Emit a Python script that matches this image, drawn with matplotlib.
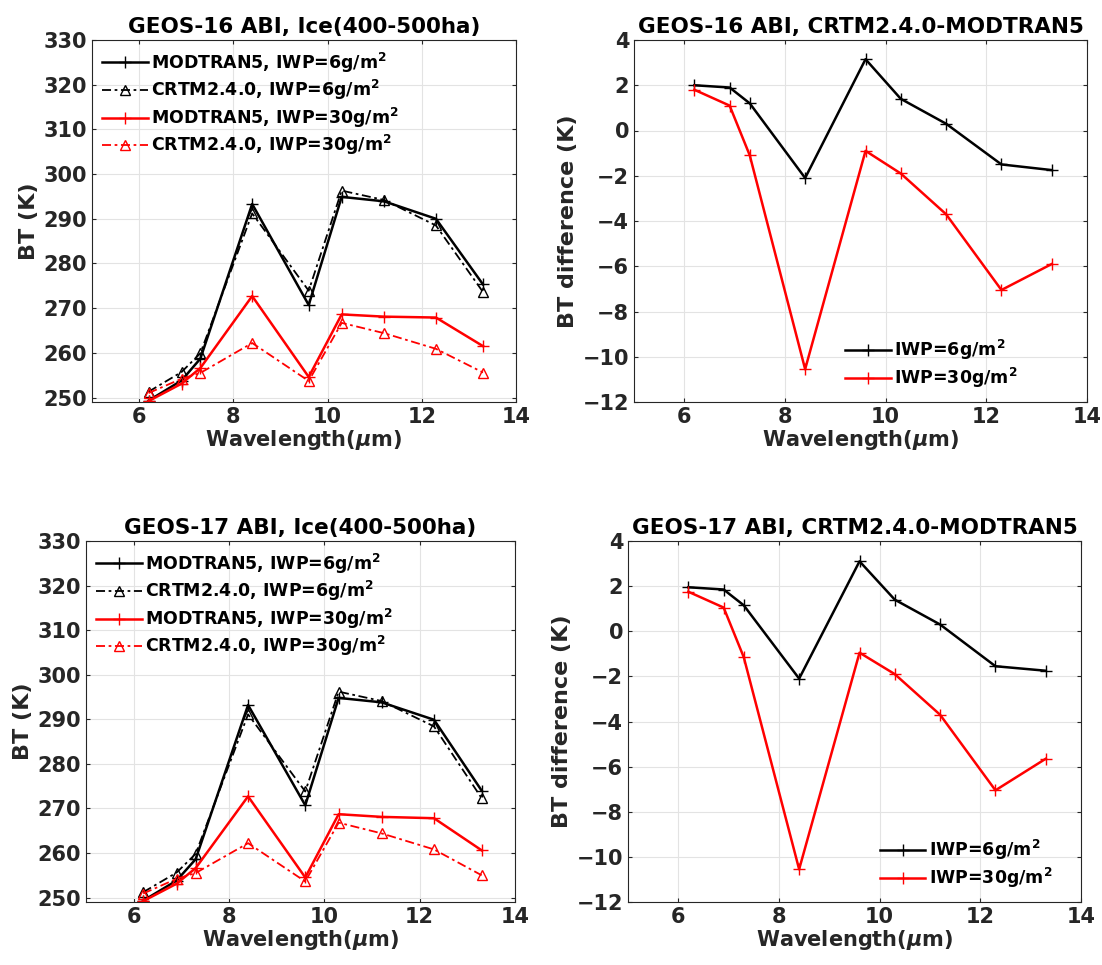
import matplotlib
matplotlib.use('Agg')
from matplotlib import pyplot

# ABI channel wavelengths (um)
WAVELENGTH = [6.2, 6.9, 7.3, 8.4, 9.6, 10.3, 11.2, 12.3, 13.3]

# GEOS-16 brightness temperatures (K)
G16_MOD_6 = [249.3, 253.8, 258.7, 293.3, 270.7, 294.9, 293.9, 290.0, 275.3]
G16_CRTM_6 = [251.3, 255.7, 259.9, 291.2, 273.9, 296.3, 294.2, 288.5, 273.6]
G16_MOD_30 = [249.2, 253.1, 256.6, 272.7, 254.6, 268.6, 268.1, 267.9, 261.5]
G16_CRTM_30 = [251.0, 254.2, 255.5, 262.2, 253.7, 266.7, 264.4, 260.9, 255.6]
G16_DIFF_6 = [2.0, 1.9, 1.2, -2.1, 3.15, 1.4, 0.3, -1.5, -1.75]
G16_DIFF_30 = [1.8, 1.1, -1.1, -10.55, -0.9, -1.9, -3.7, -7.05, -5.9]

# GEOS-17 brightness temperatures (K)
G17_MOD_6 = [249.3, 253.8, 258.6, 293.2, 270.7, 294.8, 293.8, 289.9, 274.0]
G17_CRTM_6 = [251.2, 255.6, 259.8, 291.1, 273.8, 296.2, 294.1, 288.4, 272.3]
G17_MOD_30 = [249.2, 253.1, 256.6, 272.7, 254.5, 268.7, 268.1, 267.8, 260.6]
G17_CRTM_30 = [250.9, 254.2, 255.5, 262.2, 253.6, 266.8, 264.4, 260.8, 255.0]
G17_DIFF_6 = [1.95, 1.85, 1.15, -2.1, 3.1, 1.4, 0.3, -1.55, -1.75]
G17_DIFF_30 = [1.75, 1.05, -1.15, -10.55, -0.95, -1.9, -3.7, -7.05, -5.65]

TXT = '#262626'
DASHDOT = (0, (5, 2, 1.5, 2))

pyplot.rcParams['font.family'] = 'DejaVu Sans'
pyplot.rcParams['font.weight'] = 'bold'
pyplot.rcParams['mathtext.default'] = 'bf'


def style_axes(ax, title, ylabel):
    ax.set_title(title, fontsize=15.5, fontweight='bold', color='black', pad=5)
    ax.set_xlabel('Wavelength($\\mathit{\\mu}$m)', fontsize=15, fontweight='bold', color=TXT, labelpad=1)
    ax.set_ylabel(ylabel, fontsize=16, fontweight='bold', color=TXT, labelpad=3)
    ax.set_xlim(5, 14)
    ax.set_xticks([6, 8, 10, 12, 14])
    ax.grid(True, color='#e3e3e3', linewidth=0.8)
    ax.set_axisbelow(True)
    ax.tick_params(labelsize=15, colors=TXT, direction='in', length=3, width=0.8,
                   top=True, right=True)
    for lbl in ax.get_xticklabels() + ax.get_yticklabels():
        lbl.set_fontweight('bold')
    for s in ax.spines.values():
        s.set_color(TXT)
        s.set_linewidth(0.8)


def bt_panel(ax, title, mod6, crtm6, mod30, crtm30):
    ax.plot(WAVELENGTH, mod6, '-', color='black', marker='+', markersize=8, linewidth=1.8,
            label='MODTRAN5, IWP=6g/m$^2$')
    ax.plot(WAVELENGTH, crtm6, linestyle=DASHDOT, color='black', marker='^', markersize=7,
            markerfacecolor='none', linewidth=1.3, label='CRTM2.4.0, IWP=6g/m$^2$')
    ax.plot(WAVELENGTH, mod30, '-', color='red', marker='+', markersize=8, linewidth=1.8,
            label='MODTRAN5, IWP=30g/m$^2$')
    ax.plot(WAVELENGTH, crtm30, linestyle=DASHDOT, color='red', marker='^', markersize=7,
            markerfacecolor='none', linewidth=1.3, label='CRTM2.4.0, IWP=30g/m$^2$')
    style_axes(ax, title, 'BT (K)')
    ax.set_ylim(249, 330)
    ax.set_yticks(range(250, 331, 10))
    ax.legend(loc='upper left', frameon=False, prop={'size': 12.5, 'weight': 'bold'},
              handlelength=2.6, handletextpad=0.2, labelspacing=0.2, borderaxespad=0.2)


def diff_panel(ax, title, d6, d30, legend_x):
    ax.plot(WAVELENGTH, d6, '-', color='black', marker='+', markersize=8, linewidth=1.8,
            label='IWP=6g/m$^2$')
    ax.plot(WAVELENGTH, d30, '-', color='red', marker='+', markersize=8, linewidth=1.8,
            label='IWP=30g/m$^2$')
    style_axes(ax, title, 'BT difference (K)')
    ax.set_ylim(-12, 4)
    ax.set_yticks(range(-12, 5, 2))
    ax.legend(loc='lower left', bbox_to_anchor=(legend_x, 0.0), frameon=False,
              prop={'size': 12.5, 'weight': 'bold'}, borderaxespad=0.3,
              handlelength=2.6, handletextpad=0.2, labelspacing=0.2)


figure = pyplot.figure(figsize=(11.02, 9.65), dpi=100)

W, H = 1102.0, 965.0
ax1 = figure.add_axes([92 / W, 1 - 402 / H, (516 - 92) / W, (402 - 40) / H])
ax2 = figure.add_axes([634 / W, 1 - 402 / H, (1087 - 634) / W, (402 - 40) / H])
ax3 = figure.add_axes([86 / W, 1 - 902 / H, (515 - 86) / W, (902 - 541) / H])
ax4 = figure.add_axes([628 / W, 1 - 902 / H, (1081 - 628) / W, (902 - 541) / H])

bt_panel(ax1, 'GEOS-16 ABI, Ice(400-500ha)', G16_MOD_6, G16_CRTM_6, G16_MOD_30, G16_CRTM_30)
diff_panel(ax2, 'GEOS-16 ABI, CRTM2.4.0-MODTRAN5', G16_DIFF_6, G16_DIFF_30, 0.44)
bt_panel(ax3, 'GEOS-17 ABI, Ice(400-500ha)', G17_MOD_6, G17_CRTM_6, G17_MOD_30, G17_CRTM_30)
diff_panel(ax4, 'GEOS-17 ABI, CRTM2.4.0-MODTRAN5', G17_DIFF_6, G17_DIFF_30, 0.53)

figure.savefig('out.png', dpi=100)
